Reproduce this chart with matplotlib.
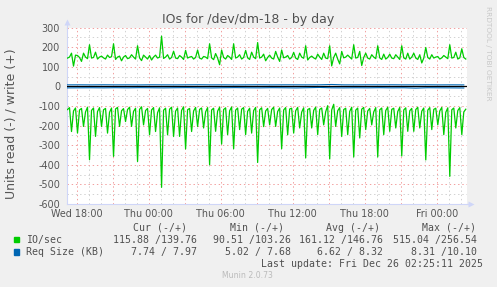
import numpy as np
import pandas as pd
import matplotlib
matplotlib.use("Agg")
import matplotlib.pyplot as plt
import matplotlib.dates as mdates
from matplotlib.ticker import MultipleLocator, FuncFormatter
from matplotlib.patches import Rectangle

plt.rcParams['axes.unicode_minus'] = False
plt.rcParams['font.family'] = ['DejaVu Sans']

# ---------------- data (10-minute samples, Wed 17:15 -> Fri 02:25) ----------------
io_read = [  # IO/sec read, plotted below zero
    118, 108, 230, 125, 110, 238, 120, 112, 204, 130, 106, 374,
    122, 110, 255, 128, 108, 204, 119, 112, 238, 132, 110, 357,
    115, 107, 204, 124, 113, 179, 118, 106, 204, 127, 111, 383,
    117, 104, 196, 123, 112, 247, 120, 108, 230, 134, 109, 515,
    121, 111, 247, 116, 106, 255, 126, 110, 255, 122, 104, 319,
    119, 112, 230, 125, 107, 204, 117, 110, 212, 130, 108, 400,
    120, 111, 229, 126, 106, 294, 118, 109, 246, 124, 105, 318,
    121, 110, 220, 116, 108, 246, 127, 111, 238, 123, 107, 388,
    119, 109, 205, 125, 112, 196, 118, 106, 204, 128, 110, 318,
    120, 108, 247, 115, 111, 238, 124, 107, 212, 131, 109, 365,
    118, 112, 212, 122, 106, 246, 117, 110, 196, 129, 98, 370,
    120, 91, 204, 124, 108, 255, 118, 111, 246, 127, 106, 360,
    121, 110, 263, 116, 107, 220, 125, 112, 196, 130, 108, 360,
    119, 110, 246, 123, 106, 229, 117, 111, 212, 128, 107, 355,
    120, 109, 229, 124, 112, 229, 118, 106, 212, 126, 110, 375,
    121, 108, 220, 117, 111, 196, 125, 107, 246, 132, 109, 459,
    119, 110, 212, 123, 108, 246, 130, 116,
]
io_write = [  # IO/sec write, plotted above zero
    145, 150, 170, 104, 160, 158, 148, 128, 170, 150, 142, 213,
    145, 148, 175, 140, 150, 155, 146, 140, 160, 148, 152, 218,
    138, 150, 155, 131, 150, 158, 142, 146, 162, 150, 140, 208,
    146, 132, 160, 150, 140, 158, 135, 150, 160, 145, 150, 257,
    143, 150, 162, 140, 148, 180, 145, 142, 158, 150, 138, 184,
    145, 150, 153, 140, 148, 186, 145, 140, 153, 150, 142, 218,
    146, 137, 168, 145, 111, 186, 148, 140, 158, 150, 138, 218,
    145, 150, 162, 140, 148, 184, 146, 138, 175, 150, 142, 224,
    145, 150, 165, 131, 148, 160, 145, 140, 179, 150, 128, 186,
    146, 150, 158, 140, 148, 174, 145, 138, 170, 150, 144, 208,
    135, 148, 155, 146, 140, 165, 150, 138, 170, 145, 142, 208,
    105, 148, 170, 140, 115, 179, 146, 150, 160, 150, 140, 213,
    145, 148, 179, 107, 148, 170, 145, 140, 162, 150, 142, 208,
    146, 138, 165, 140, 148, 165, 145, 142, 162, 150, 138, 208,
    146, 140, 170, 140, 150, 170, 145, 138, 162, 120, 145, 199,
    148, 140, 162, 145, 150, 153, 140, 146, 158, 150, 142, 213,
    145, 148, 175, 140, 146, 192, 148, 140,
]
# Req Size (KB), hourly samples Wed 17:15 -> Fri 02:15
req_read = [7.2, 6.8, 6.5, 7.0, 6.3, 6.9, 6.1, 6.6, 7.1, 6.4, 6.0, 6.8,
            7.3, 6.5, 5.9, 6.7, 7.0, 6.2, 6.6, 7.4, 6.3, 5.0, 6.8, 7.1,
            6.5, 6.9, 6.2, 7.0, 6.6, 8.3, 6.4, 6.8, 7.2, 7.7]
req_write = [8.2, 8.4, 8.0, 8.6, 8.1, 8.3, 7.9, 8.5, 8.2, 8.0, 8.4, 8.7,
             8.1, 8.3, 7.7, 8.2, 8.6, 8.0, 8.4, 8.3, 8.1, 8.5, 10.1, 8.2,
             8.0, 8.4, 8.3, 8.6, 8.1, 8.2, 8.5, 8.0, 8.3, 8.0]

legend_headers = ["Cur (-/+)", "Min (-/+)", "Avg (-/+)", "Max (-/+)"]
io_stats = ["115.88 /139.76", "90.51 /103.26", "161.12 /146.76", "515.04 /256.54"]
req_stats = ["7.74 / 7.97", "5.02 / 7.68", "6.62 / 8.32", "8.31 /10.10"]
series_names = ["IO/sec", "Req Size (KB)"]
series_colors = ["#00CC00", "#0066B3"]

times = pd.date_range("2025-12-24 17:15", periods=len(io_read), freq="10min")
req_times = pd.date_range("2025-12-24 17:15", periods=len(req_read), freq="60min")

# ---------------- figure ----------------
W, H = 497, 287
fig = plt.figure(figsize=(W / 100, H / 100), dpi=100, facecolor="#F0F0F0")

def fx(px):
    return px / W

def fy(py):
    return 1 - py / H

ax_l, ax_r, ax_t, ax_b = 67, 467.3, 27.7, 204
ax = fig.add_axes([fx(ax_l), fy(ax_b), (ax_r - ax_l) / W, (ax_b - ax_t) / H])
ax.set_facecolor("white")

ax.plot(times, -np.array(io_read), color=series_colors[0], lw=0.9, zorder=3)
ax.plot(times, np.array(io_write), color=series_colors[0], lw=0.9, zorder=3)
ax.axhline(0, color="black", lw=0.9, zorder=4)
ax.plot(req_times, -np.array(req_read), color=series_colors[1], lw=0.8, zorder=5)
ax.plot(req_times, np.array(req_write), color=series_colors[1], lw=0.8, zorder=5)

ax.set_ylim(-600, 300)
ax.set_xlim(pd.Timestamp("2025-12-24 17:12:30"), pd.Timestamp("2025-12-26 02:32:30"))

ax.yaxis.set_major_locator(MultipleLocator(100))
ax.yaxis.set_minor_locator(MultipleLocator(50))
ax.xaxis.set_major_locator(mdates.HourLocator(byhour=range(0, 24, 3)))
ax.xaxis.set_minor_locator(mdates.HourLocator(byhour=range(24)))

def xfmt(x, pos):
    d = mdates.num2date(x)
    return d.strftime("%a %H:%M") if d.hour % 6 == 0 else ""

ax.xaxis.set_major_formatter(FuncFormatter(xfmt))

ax.set_axisbelow(True)
ax.grid(which="major", color="#F2A0A0", ls=(0, (1.4, 2.8)), lw=0.72)
ax.grid(which="minor", color="#D2D2D2", ls=(0, (1.4, 2.8)), lw=0.72)
ax.tick_params(which="both", length=0)
ax.tick_params(axis="y", pad=5, labelsize=6.9, labelcolor="#555555")
ax.tick_params(axis="x", pad=3.4, labelsize=6.9, labelcolor="#555555")

for s in ["top", "right"]:
    ax.spines[s].set_visible(False)
axis_c = "#CFD6F8"
for s in ["left", "bottom"]:
    ax.spines[s].set_color(axis_c)
    ax.spines[s].set_linewidth(0.8)
ax.plot([0, 0], [1, 1.035], transform=ax.transAxes, color=axis_c, lw=0.8, clip_on=False)
ax.plot([0], [1.035], transform=ax.transAxes, marker="^", ms=4, color=axis_c, clip_on=False, mec="none")
ax.plot([1, 1.01], [0, 0], transform=ax.transAxes, color=axis_c, lw=0.8, clip_on=False)
ax.plot([1.01], [0], transform=ax.transAxes, marker=">", ms=4, color=axis_c, clip_on=False, mec="none")

# titles / labels
fig.text(fx(248.3), fy(19.5), "IOs for /dev/dm-18 - by day", ha="center", va="center",
         fontsize=9, color="#505050")
fig.text(fx(10.7), fy(124), "Units read (-) / write (+)", rotation=90, ha="center",
         va="center", fontsize=9, color="#555555")
fig.text(fx(488.3), fy(53.5), "RRDTOOL / TOBI OETIKER", rotation=270, ha="center",
         va="center", fontsize=5.3, color="#C8C8C8")

# legend
mono = "DejaVu Sans Mono"
msize = 7.1
tc = "#505050"
header_right = [187.3, 284.0, 380.0, 476.0]
value_right = [196.7, 290.7, 383.3, 476.7]
y_head, y_r1, y_r2, y_upd, y_mun = 228, 239.7, 252, 264.2, 275.8

for h, xr in zip(legend_headers, header_right):
    fig.text(fx(xr), fy(y_head), h, ha="right", va="center", family=mono, fontsize=msize, color=tc)

for i, (name, col, yy) in enumerate(zip(series_names, series_colors, [y_r1, y_r2])):
    fig.patches.append(Rectangle((fx(14), fy(yy + 2.7)), 5.3 / W, 5.3 / H,
                                 transform=fig.transFigure, color=col, figure=fig))
    fig.text(fx(26), fy(yy), name, ha="left", va="center", family=mono, fontsize=msize, color=tc)

for s, xr in zip(io_stats, value_right):
    fig.text(fx(xr), fy(y_r1), s, ha="right", va="center", family=mono, fontsize=msize, color=tc)

for s, xr in zip(req_stats, value_right):
    fig.text(fx(xr), fy(y_r2), s, ha="right", va="center", family=mono, fontsize=msize, color=tc)

fig.text(fx(482.7), fy(y_upd), "Last update: Fri Dec 26 02:25:11 2025", ha="right", va="center",
         family=mono, fontsize=msize, color=tc)
fig.text(fx(247.7), fy(y_mun), "Munin 2.0.73", ha="center", va="center", fontsize=5.6, color="#BBBBBB")

fig.savefig("out.png", dpi=100, facecolor=fig.get_facecolor())
